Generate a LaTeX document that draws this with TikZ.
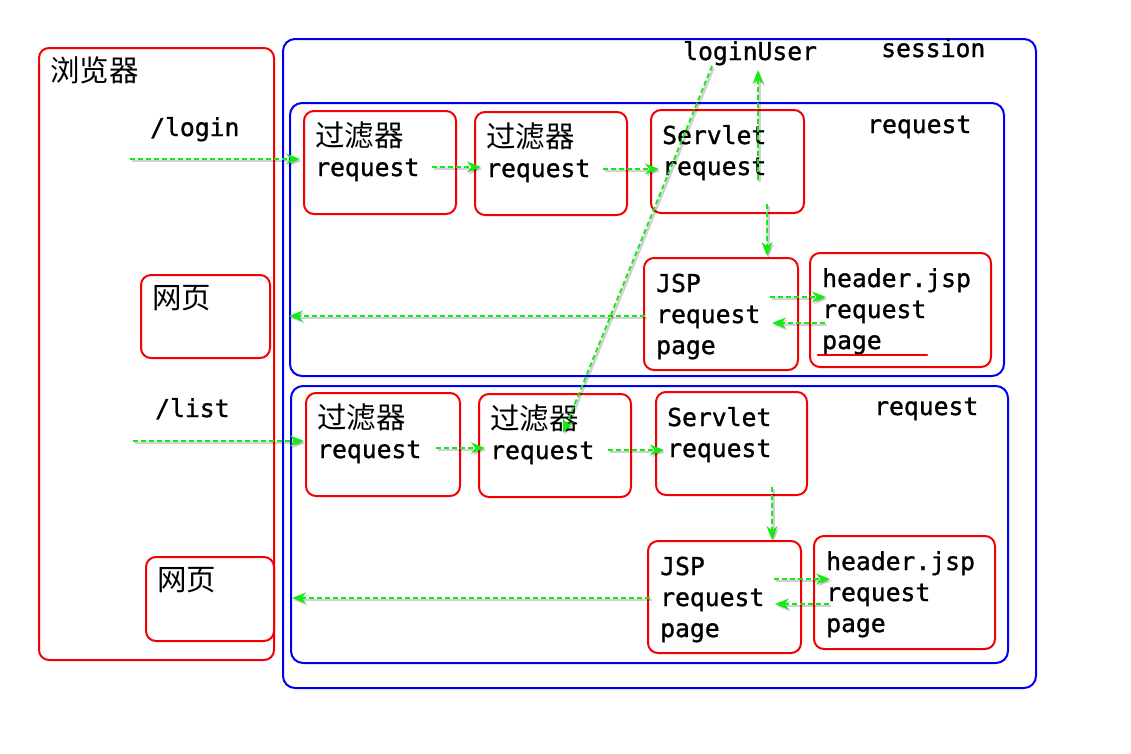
\documentclass[tikz,border=0pt]{standalone}
\usepackage{fontspec}
\newfontfamily\monof{DejaVu Sans Mono}[FakeBold=1.2]
\newfontfamily\cjk{Noto Sans CJK SC}
\usetikzlibrary{arrows.meta}
\definecolor{lg}{RGB}{20,235,20}
\definecolor{rr}{RGB}{245,0,0}
\definecolor{bb}{RGB}{0,0,245}
\tikzset{
 rbox/.style={draw=rr, line width=2pt, rounded corners=10pt, anchor=north west, inner sep=0pt},
 bbox/.style={draw=bb, line width=2pt, rounded corners=12pt, anchor=north west, inner sep=0pt},
 lat/.style={font=\monof\fontsize{24.7}{30}\selectfont, anchor=base west, inner sep=0pt},
 han/.style={font=\cjk\fontsize{29.5}{30}\selectfont, anchor=base west, inner sep=0pt},
 flow/.style={draw=lg, line width=1.8pt, dash pattern=on 5pt off 3pt, -{Stealth[length=14pt,width=11pt]},
   preaction={draw=black, opacity=0.18, line width=2.6pt, transform canvas={shift={(1.5pt,-2pt)}}}},
}
\begin{document}
\begin{tikzpicture}[x=1pt,y=-1pt]
\useasboundingbox[fill=white] (0,0) rectangle (1131,753);
% containers
\node[rbox, minimum width=235, minimum height=612] (br) at (38,47) {};
\node[bbox, minimum width=753, minimum height=649] (se) at (282,38) {};
\node[bbox, minimum width=714, minimum height=273] (rq1) at (289,102) {};
\node[bbox, minimum width=717, minimum height=277] (rq2) at (290,385) {};
% boxes top
\node[rbox, minimum width=152, minimum height=103] (f1) at (303,110) {};
\node[rbox, minimum width=152, minimum height=103] (f2) at (474,111) {};
\node[rbox, minimum width=153, minimum height=103] (s1) at (650,109) {};
\node[rbox, minimum width=154, minimum height=112] (j1) at (643,257) {};
\node[rbox, minimum width=181, minimum height=114] (h1) at (809,252) {};
\node[rbox, minimum width=129, minimum height=83] (w1) at (140,274) {};
% boxes bottom
\node[rbox, minimum width=154, minimum height=103] (f3) at (305,392) {};
\node[rbox, minimum width=152, minimum height=103] (f4) at (478,393) {};
\node[rbox, minimum width=151, minimum height=103] (s2) at (655,391) {};
\node[rbox, minimum width=153, minimum height=112] (j2) at (647,540) {};
\node[rbox, minimum width=181, minimum height=113] (h2) at (813,535) {};
\node[rbox, minimum width=128, minimum height=84] (w2) at (145,556) {};
% labels
\node[han] (brt) at (50,81) {浏览器};
\node[lat] (lgn) at (150,136) {/login};
\node[lat] (lst) at (155,417) {/list};
\node[lat] (lu) at (683,60) {loginUser};
\node[lat] (set) at (881,57) {session};
\node[lat] (rq1t) at (867,133) {request};
\node[lat] (rq2t) at (874,415) {request};
\node[han] (w1t) at (152,308) {网页};
\node[han] (w2t) at (157,590) {网页};
% texts top
\node[han] (f1a) at (315,146) {过滤器};
\node[lat] (f1b) at (315,176) {request};
\node[han] (f2a) at (486,147) {过滤器};
\node[lat] (f2b) at (486,177) {request};
\node[lat] (s1a) at (662,144) {Servlet};
\node[lat] (s1b) at (662,175) {request};
\node[lat] (j1a) at (656,292) {JSP};
\node[lat] (j1b) at (656,323) {request};
\node[lat] (j1c) at (656,354) {page};
\node[lat] (h1a) at (822,287) {header.jsp};
\node[lat] (h1b) at (822,318) {request};
\node[lat] (h1c) at (822,349) {page};
% texts bottom
\node[han] (f3a) at (317,428) {过滤器};
\node[lat] (f3b) at (317,458) {request};
\node[han] (f4a) at (490,429) {过滤器};
\node[lat] (f4b) at (490,459) {request};
\node[lat] (s2a) at (667,426) {Servlet};
\node[lat] (s2b) at (667,457) {request};
\node[lat] (j2a) at (660,575) {JSP};
\node[lat] (j2b) at (660,606) {request};
\node[lat] (j2c) at (660,637) {page};
\node[lat] (h2a) at (826,570) {header.jsp};
\node[lat] (h2b) at (826,601) {request};
\node[lat] (h2c) at (826,632) {page};
% underline
\coordinate (ul1) at (818,355);
\coordinate (ul2) at (927,355);
\draw[rr, line width=2.8pt, line cap=round] (ul1) -- (ul2);
% connector end points
\coordinate (a1s) at (130,159); \coordinate (a1e) at (300,159);
\coordinate (a2s) at (432,167); \coordinate (a2e) at (481,167);
\coordinate (a3s) at (603,169); \coordinate (a3e) at (659,169);
\coordinate (a4s) at (767,204); \coordinate (a4e) at (767,256);
\coordinate (a5s) at (770,297); \coordinate (a5e) at (826,297);
\coordinate (a6s) at (825,323); \coordinate (a6e) at (772,323);
\coordinate (a7s) at (645,316); \coordinate (a7e) at (289,316);
\coordinate (a8s) at (758,180); \coordinate (a8e) at (758,70);
\coordinate (a9s) at (712,66);  \coordinate (a9e) at (563,433);
\coordinate (b1s) at (133,441); \coordinate (b1e) at (304,441);
\coordinate (b2s) at (436,448); \coordinate (b2e) at (485,448);
\coordinate (b3s) at (608,450); \coordinate (b3e) at (664,450);
\coordinate (b4s) at (772,487); \coordinate (b4e) at (772,540);
\coordinate (b5s) at (774,579); \coordinate (b5e) at (830,579);
\coordinate (b6s) at (829,604); \coordinate (b6e) at (775,604);
\coordinate (b7s) at (650,598); \coordinate (b7e) at (292,598);
\draw[flow] (a1s) -- (a1e);
\draw[flow] (a2s) -- (a2e);
\draw[flow] (a3s) -- (a3e);
\draw[flow] (a4s) -- (a4e);
\draw[flow] (a5s) -- (a5e);
\draw[flow] (a6s) -- (a6e);
\draw[flow] (a7s) -- (a7e);
\draw[flow] (a8s) -- (a8e);
\draw[flow] (a9s) -- (a9e);
\draw[flow] (b1s) -- (b1e);
\draw[flow] (b2s) -- (b2e);
\draw[flow] (b3s) -- (b3e);
\draw[flow] (b4s) -- (b4e);
\draw[flow] (b5s) -- (b5e);
\draw[flow] (b6s) -- (b6e);
\draw[flow] (b7s) -- (b7e);
\end{tikzpicture}
\end{document}
